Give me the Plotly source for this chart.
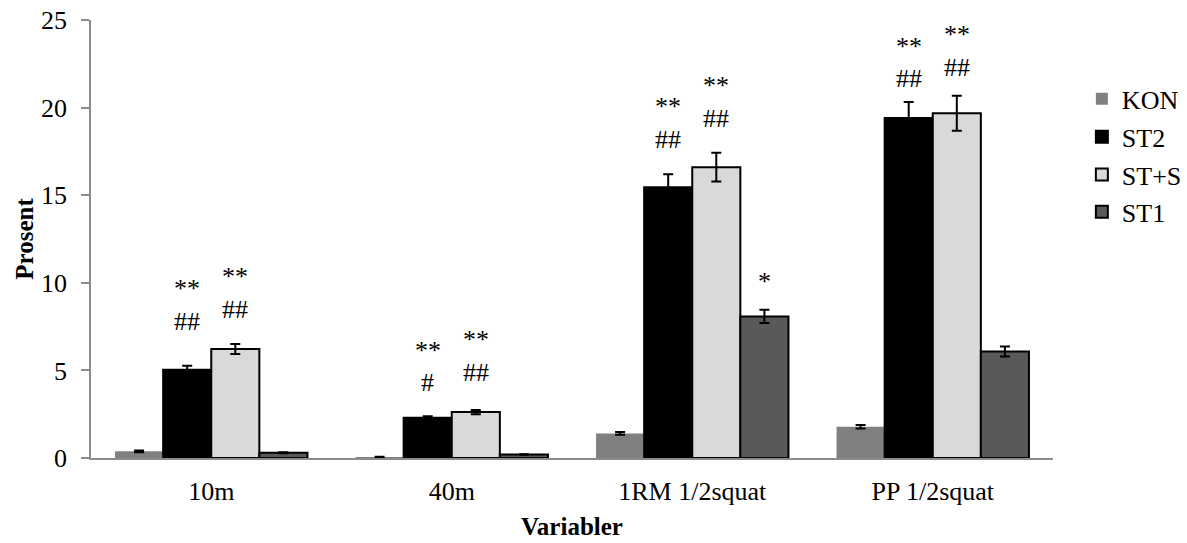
import plotly.graph_objects as go

categories = ["10m", "40m", "1RM 1/2squat", "PP 1/2squat"]
series_names = ["KON", "ST2", "ST+S", "ST1"]
kon = [0.38, 0.05, 1.4, 1.78]
st2 = [5.04, 2.3, 15.45, 19.4]
sts = [6.22, 2.62, 16.6, 19.68]
st1 = [0.3, 0.2, 8.08, 6.08]
kon_err = [0.05, 0.02, 0.08, 0.1]
st2_err = [0.23, 0.08, 0.75, 0.92]
sts_err = [0.28, 0.12, 0.82, 1.0]
st1_err = [0.03, 0.02, 0.38, 0.29]

values = [kon, st2, sts, st1]
errors = [kon_err, st2_err, sts_err, st1_err]
fills = ["#808080", "#000000", "#d9d9d9", "#595959"]
outlines = [0, 2, 2, 2]

# significance marks: (category index, series index, text, y level)
marks = [
    (0, 1, "**", 9.65), (0, 1, "##", 7.8),
    (0, 2, "**", 10.35), (0, 2, "##", 8.5),
    (1, 1, "**", 6.15), (1, 1, "#", 4.3),
    (1, 2, "**", 6.75), (1, 2, "##", 4.9),
    (2, 1, "**", 20.05), (2, 1, "##", 18.2),
    (2, 2, "**", 21.25), (2, 2, "##", 19.4),
    (2, 3, "*", 10.1),
    (3, 1, "**", 23.5), (3, 1, "##", 21.65),
    (3, 2, "**", 24.15), (3, 2, "##", 22.3),
]

FONT = "Liberation Serif, Times New Roman, serif"
FS = 26

legend_ids = ["legend", "legend2", "legend3", "legend4"]
legend_y = [0.82, 0.733, 0.647, 0.562]

fig = go.Figure()
for name, v, e, c, w, lid in zip(series_names, values, errors, fills, outlines, legend_ids):
    fig.add_trace(go.Bar(
        name=name, x=categories, y=v, legend=lid,
        marker=dict(color=c, line=dict(color="#000000", width=w)),
        error_y=dict(type="data", array=e, visible=True, color="#000000",
                     thickness=2, width=5),
    ))

n_series = len(series_names)
bargap = 0.2
slot = (1 - bargap) / n_series
for ci, si, txt, yv in marks:
    xpos = ci - (1 - bargap) / 2 + slot * (si + 0.5)
    fig.add_annotation(x=xpos, y=yv, xref="x", yref="y", text=txt,
                       showarrow=False, font=dict(family=FONT, size=FS, color="#000"),
                       yanchor="middle")

layout_legends = {}
for lid, ly in zip(legend_ids, legend_y):
    layout_legends[lid] = dict(x=1.03, y=ly, xanchor="left", yanchor="middle",
                               font=dict(family=FONT, size=FS, color="#000"),
                               itemwidth=30, bgcolor="rgba(0,0,0,0)")

fig.update_layout(
    width=1187, height=543,
    barmode="group", bargap=bargap, bargroupgap=0,
    plot_bgcolor="white", paper_bgcolor="white",
    margin=dict(l=91, r=134, t=20, b=85, autoexpand=False),
    font=dict(family=FONT, size=FS, color="#000"),
    showlegend=True,
    **layout_legends,
    xaxis=dict(
        tickmode="array", tickvals=list(range(len(categories))), ticktext=categories,
        range=[-0.5, len(categories) - 0.5],
        showline=True, linecolor="#8c8c8c", linewidth=1.5, ticks="",
        showgrid=False, ticklabelstandoff=9, automargin=False,
        ticklabeloverflow="allow",
        tickfont=dict(family=FONT, size=FS),
        title=dict(text="<b>Variabler</b>", font=dict(family=FONT, size=25), standoff=13),
    ),
    yaxis=dict(
        range=[0, 25], tickvals=[0, 5, 10, 15, 20, 25],
        showline=True, linecolor="#8c8c8c", linewidth=1.5,
        ticks="outside", ticklen=8, tickcolor="#8c8c8c", tickwidth=1.5,
        showgrid=False, zeroline=False, ticklabelstandoff=9, automargin=False,
        ticklabeloverflow="allow",
        tickfont=dict(family=FONT, size=FS),
        title=dict(text="<b>Prosent</b>", font=dict(family=FONT, size=25), standoff=0),
    ),
)

# remove the default 8px page margin so the figure fills the window exactly
fig.write_html("out.html", config={"displayModeBar": False},
               post_script="document.body.style.margin='0';")
